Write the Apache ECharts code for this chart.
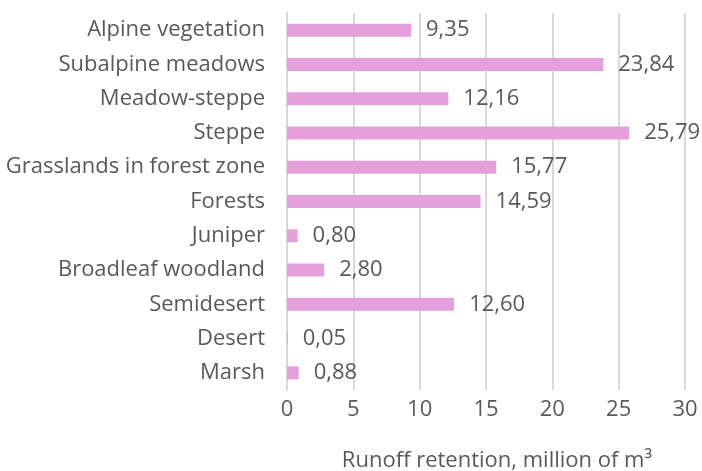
<!DOCTYPE html>
<html>
<head>
<meta charset="utf-8">
<script src="https://cdn.jsdelivr.net/npm/echarts@6/dist/echarts.min.js"></script>
<style>
  html, body { margin: 0; padding: 0; background: #fff; }
  #chart { width: 702px; height: 471px; }
</style>
</head>
<body>
<div id="chart"></div>
<script>
// categories listed top to bottom
const categories = [
  'Alpine vegetation', 'Subalpine meadows', 'Meadow-steppe', 'Steppe',
  'Grasslands in forest zone', 'Forests', 'Juniper', 'Broadleaf woodland',
  'Semidesert', 'Desert', 'Marsh'
]
const retention = [9.35, 23.84, 12.16, 25.79, 15.77, 14.59, 0.80, 2.80, 12.60, 0.05, 0.88]
const xTicks = [0, 5, 10, 15, 20, 25, 30]

const textColor = '#595959'
const fontFamily = '"Open Sans", "Noto Sans", sans-serif'
const fontSize = 22

const chart = echarts.init(document.getElementById('chart'))

chart.setOption({
  animation: false,
  textStyle: { fontFamily: fontFamily },
  grid: {
    left: 287,
    right: 17,
    top: 13,
    bottom: 81,
    outerBoundsMode: 'none'
  },
  xAxis: {
    type: 'value',
    min: xTicks[0],
    max: xTicks[xTicks.length - 1],
    interval: 5,
    name: 'Runoff retention, million of m³',
    nameLocation: 'middle',
    nameGap: 60,
    nameTextStyle: { color: textColor, fontSize: fontSize, fontFamily: fontFamily, padding: [0, 0, 0, 22] },
    axisLine: { show: false },
    axisTick: { show: false },
    axisLabel: { color: textColor, fontSize: fontSize, margin: 9, fontFamily: fontFamily },
    splitLine: { lineStyle: { color: '#d9d9d9', width: 2 } }
  },
  yAxis: {
    type: 'category',
    inverse: true,
    data: categories,
    axisLine: { lineStyle: { color: '#d9d9d9', width: 2 } },
    axisTick: { show: false },
    axisLabel: { color: textColor, fontSize: fontSize, margin: 22, fontFamily: fontFamily }
  },
  series: [{
    type: 'bar',
    data: retention,
    barWidth: 13,
    itemStyle: { color: '#e59fdb' },
    label: {
      show: true,
      position: 'right',
      distance: 15,
      color: textColor,
      fontSize: fontSize,
      fontFamily: fontFamily,
      formatter: p => p.value.toFixed(2).replace('.', ',')
    }
  }]
})
</script>
</body>
</html>
